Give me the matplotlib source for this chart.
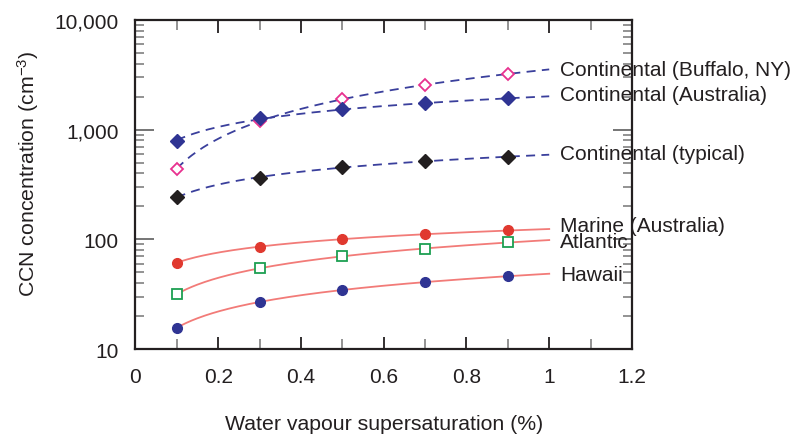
import numpy as np
import matplotlib
matplotlib.use("Agg")
import matplotlib.pyplot as plt
from matplotlib.ticker import FixedLocator, FuncFormatter, LogLocator, NullFormatter

plt.rcParams['font.family'] = ['Liberation Sans', 'DejaVu Sans']
plt.rcParams['mathtext.default'] = 'regular'

# Data
supersat = [0.1, 0.3, 0.5, 0.7, 0.9]
buffalo = [442, 1188, 1888, 2566, 3235]
cont_australia = [796, 1265, 1528, 1734, 1928]
cont_typical = [242, 366, 452, 515, 569]
marine_australia = [61.3, 85.7, 100, 111, 121]
atlantic = [31.7, 54.3, 70, 82.2, 94]
hawaii = [15.6, 26.8, 34.7, 40.8, 45.9]

series_names = ["Continental (Buffalo, NY)", "Continental (Australia)",
                "Continental (typical)", "Marine (Australia)", "Atlantic", "Hawaii"]

fig = plt.figure(figsize=(8.01, 4.35), dpi=100)
ax = fig.add_axes([0.169, 0.1954, 0.62, 0.7563])

s_fit = np.linspace(0.1, 1.0, 200)

def fit_curve(vals):
    k, lnc = np.polyfit(np.log(supersat), np.log(vals), 1)
    return np.exp(lnc) * s_fit ** k

dash_col = '#3a3f9c'
red_line = '#f27b78'

specs = [
    (buffalo, dict(marker='D', mfc='white', mec='#e8318f', ms=6, mew=1.3), dash_col, '--'),
    (cont_australia, dict(marker='D', mfc='#2f3493', mec='#2f3493', ms=6.8, mew=1), dash_col, '--'),
    (cont_typical, dict(marker='D', mfc='#231f20', mec='#231f20', ms=6.8, mew=1), dash_col, '--'),
    (marine_australia, dict(marker='o', mfc='#e0392f', mec='#e0392f', ms=7, mew=1), red_line, '-'),
    (atlantic, dict(marker='s', mfc='white', mec='#1c9f52', ms=6.5, mew=1.3), red_line, '-'),
    (hawaii, dict(marker='o', mfc='#2f3493', mec='#2f3493', ms=7, mew=1), red_line, '-'),
]

for vals, mk, lc, ls in specs:
    if ls == '--':
        ax.plot(s_fit, fit_curve(vals), color=lc, lw=1.3, ls=(0, (5, 3.5)), zorder=2)
    else:
        ax.plot(s_fit, fit_curve(vals), color=lc, lw=1.3, ls='-', zorder=2)
    ax.plot(supersat, vals, ls='none', zorder=3, **mk)

label_y = [3540, 2090, 605, 135, 96, 48]
for name, yy in zip(series_names, label_y):
    ax.text(1.027, yy, name, fontsize=15, va='center', ha='left', color='#231f20')

ax.set_yscale('log')
ax.set_xlim(0, 1.2)
ax.set_ylim(10, 10000)

ax.xaxis.set_major_locator(FixedLocator([0, 0.2, 0.4, 0.6, 0.8, 1.0, 1.2]))
ax.xaxis.set_minor_locator(FixedLocator([0.1, 0.3, 0.5, 0.7, 0.9, 1.1]))
ax.xaxis.set_major_formatter(FuncFormatter(lambda v, p: ('%g' % round(v, 2))))
ax.yaxis.set_major_locator(FixedLocator([10, 100, 1000, 10000]))
ax.yaxis.set_minor_locator(LogLocator(base=10, subs=np.arange(2, 10)))
ax.yaxis.set_minor_formatter(NullFormatter())
ax.yaxis.set_major_formatter(FuncFormatter(lambda v, p: '{:,}'.format(int(round(v)))))

ax.tick_params(axis='both', which='both', direction='in', top=True, right=True,
               labelsize=15, labelcolor='#231f20')
ax.tick_params(axis='x', which='major', length=9, width=1.3, color='#231f20', pad=13)
ax.tick_params(axis='x', which='minor', length=7, width=1.3, color='#8a8a8a')
ax.tick_params(axis='y', which='major', length=14, width=1.3, color='#6a6a6a', pad=12)
ax.tick_params(axis='y', which='minor', length=6.5, width=1.3, color='#8a8a8a')

for sp in ax.spines.values():
    sp.set_linewidth(1.6)
    sp.set_color('#231f20')

ax.set_xlabel('Water vapour supersaturation (%)', fontsize=15.3, color='#231f20', labelpad=20)
ax.set_ylabel('CCN concentration (cm$^{-3}$)', fontsize=15.3, color='#231f20', labelpad=10)
ax.yaxis.label.set_y(0.535)

fig.savefig('out.png', dpi=100)
